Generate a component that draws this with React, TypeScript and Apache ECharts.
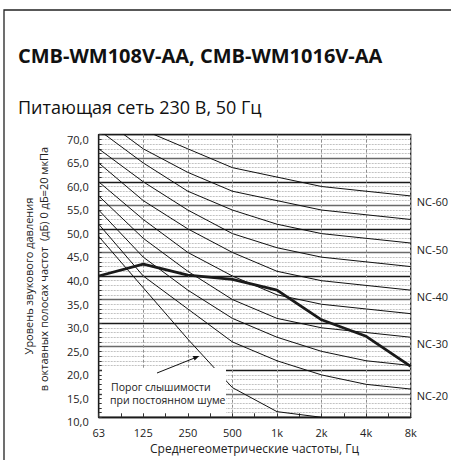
import React, { useEffect, useRef } from "react";
import * as echarts from "echarts";

const freqLabels = ["63", "125", "250", "500", "1k", "2k", "4k", "8k"];

const nc20 = [51, 40, 33, 26, 22, 19, 17, 16];
const nc25 = [54, 44, 37, 31, 27, 24, 22, 21];
const nc30 = [57, 48, 41, 35, 31, 29, 28, 27];
const nc35 = [60, 52, 45, 40, 36, 34, 33, 32];
const nc40 = [64, 56, 50, 45, 41, 39, 38, 37];
const nc45 = [67, 60, 54, 49, 46, 44, 43, 42];
const nc50 = [71, 64, 58, 54, 51, 49, 48, 47];
const nc55 = [74, 67, 62, 58, 56, 54, 53, 52];
const nc60 = [77, 71, 67, 63, 61, 59, 58, 57];

const threshold = [48.4, 37.5, 26.6, 16.3, 11.2, 10];
const measured = [40, 42.5, 40.2, 39.3, 37, 30.7, 27.2, 20.8];

const ncCurves = [
  { name: "NC-20", data: nc20, label: true },
  { name: "NC-25", data: nc25, label: false },
  { name: "NC-30", data: nc30, label: true },
  { name: "NC-35", data: nc35, label: false },
  { name: "NC-40", data: nc40, label: true },
  { name: "NC-45", data: nc45, label: false },
  { name: "NC-50", data: nc50, label: true },
  { name: "NC-55", data: nc55, label: false },
  { name: "NC-60", data: nc60, label: true },
];

const FONT = "Open Sans";

export default function App() {
  const ref = useRef<HTMLDivElement>(null);
  useEffect(() => {
    document.body.style.margin = "0";
    if (!ref.current) return;
    const chart = echarts.init(ref.current, undefined, { renderer: "svg" });

    const series: any[] = ncCurves.map((c) => ({
      type: "line",
      name: c.name,
      data: c.data.map((v, i) => [i, v]),
      symbol: "none",
      silent: true,
      lineStyle: { color: "#111", width: 1 },
      z: 3,
      endLabel: c.label
        ? {
            show: true,
            formatter: c.name,
            distance: 6,
            offset: [0, 6],
            fontFamily: FONT,
            fontSize: 11,
            color: "#222",
          }
        : { show: false },
    }));
    series.push({
      type: "line",
      name: "threshold",
      data: threshold.map((v, i) => [i, v]),
      symbol: "none",
      silent: true,
      lineStyle: { color: "#111", width: 1 },
      z: 3,
    });
    series.push({
      type: "line",
      name: "measured",
      data: measured.map((v, i) => [i, v]),
      symbol: "none",
      silent: true,
      lineStyle: { color: "#1a1a1a", width: 2.8 },
      z: 4,
    });

    const option: any = {
      animation: false,
      backgroundColor: "#fff",
      textStyle: { fontFamily: FONT },
      grid: {
        left: 98.7,
        top: 134.7,
        right: 40.3,
        bottom: 42.7,
        show: true,
        borderColor: "#1a1a1a",
        borderWidth: 1.3,
        backgroundColor: "transparent",
      },
      xAxis: {
        type: "value",
        min: 0,
        max: 7,
        interval: 1,
        axisLine: { show: true, lineStyle: { color: "#1a1a1a", width: 1.3 } },
        axisTick: { show: true, inside: true, length: 4, lineStyle: { color: "#333" } },
        minorTick: { show: true, splitNumber: 2, length: 4, lineStyle: { color: "#333" } },
        axisLabel: {
          formatter: (v: number) => freqLabels[Math.round(v)] ?? "",
          fontFamily: FONT,
          fontSize: 11,
          color: "#222",
          margin: 10,
        },
        splitLine: { show: true, lineStyle: { color: "#8f8f8f", width: 1, type: [3, 2] } },
      },
      yAxis: {
        type: "value",
        min: 10,
        max: 70,
        interval: 5,
        axisLine: { show: true, lineStyle: { color: "#1a1a1a", width: 1.3 } },
        axisTick: { show: true, inside: true, length: 3, lineStyle: { color: "#333" } },
        minorTick: { show: true, splitNumber: 5, length: 3, lineStyle: { color: "#333" } },
        axisLabel: {
          formatter: (v: number) => v.toFixed(1).replace(".", ","),
          fontFamily: FONT,
          fontSize: 11,
          color: "#222",
          margin: 10,
          verticalAlign: "top",
          padding: [-1, 0, 0, 0],
        },
        splitLine: { show: true, lineStyle: { color: ["#1a1a1a", "#6a6a6a"], width: 1.3 } },
        minorSplitLine: { show: true, lineStyle: { color: "#b2b2b2", width: 0.8, type: [2, 1] } },
      },
      series,
      graphic: [
        {
          type: "rect",
          shape: { x: 4, y: 10, width: 500, height: 500 },
          style: { fill: "none", stroke: "#222", lineWidth: 1.3 },
          silent: true,
          z: 0,
        },
        {
          type: "text",
          x: 18,
          y: 55,
          style: {
            text: "CMB-WM108V-AA, CMB-WM1016V-AA",
            font: `bold 20px "${FONT}"`,
            fill: "#111",
            textVerticalAlign: "middle",
          },
        },
        {
          type: "text",
          x: 18,
          y: 107,
          style: {
            text: "Питающая сеть 230 В, 50 Гц",
            font: `18px "${FONT}"`,
            fill: "#111",
            textVerticalAlign: "middle",
          },
        },
        {
          type: "text",
          x: 28.3,
          y: 276,
          rotation: Math.PI / 2,
          style: {
            text: "Уровень звукового давления",
            font: `11px "${FONT}"`,
            fill: "#222",
            textAlign: "center",
            textVerticalAlign: "middle",
          },
        },
        {
          type: "text",
          x: 43.3,
          y: 269,
          rotation: Math.PI / 2,
          style: {
            text: "в октавных полосах частот  (дБ) 0 дБ=20 мкПа",
            font: `11px "${FONT}"`,
            fill: "#222",
            textAlign: "center",
            textVerticalAlign: "middle",
          },
        },
        {
          type: "text",
          x: 254.5,
          y: 448,
          style: {
            text: "Среднегеометрические частоты, Гц",
            font: `12px "${FONT}"`,
            fill: "#222",
            textAlign: "center",
            textVerticalAlign: "middle",
          },
        },
        {
          type: "rect",
          shape: { x: 102, y: 368, width: 124, height: 45 },
          style: { fill: "#fff" },
          silent: true,
          z: 50,
        },
        {
          type: "text",
          x: 111,
          y: 387,
          z: 51,
          style: {
            text: "Порог слышимости",
            font: `10.5px "${FONT}"`,
            fill: "#222",
            textVerticalAlign: "middle",
          },
        },
        {
          type: "text",
          x: 110,
          y: 399.5,
          z: 51,
          style: {
            text: "при постоянном шуме",
            font: `10.5px "${FONT}"`,
            fill: "#222",
            textVerticalAlign: "middle",
          },
        },
        {
          type: "line",
          z: 51,
          shape: { x1: 157, y1: 373, x2: 195, y2: 357.8 },
          style: { stroke: "#111", lineWidth: 1 },
        },
        {
          type: "polygon",
          z: 51,
          shape: { points: [[199.3, 356], [194.6, 360.5], [192.8, 355.9]] },
          style: { fill: "#111" },
        },
      ],
    };
    chart.setOption(option);
    return () => chart.dispose();
  }, []);
  return <div ref={ref} style={{ width: 451, height: 460 }} />;
}
